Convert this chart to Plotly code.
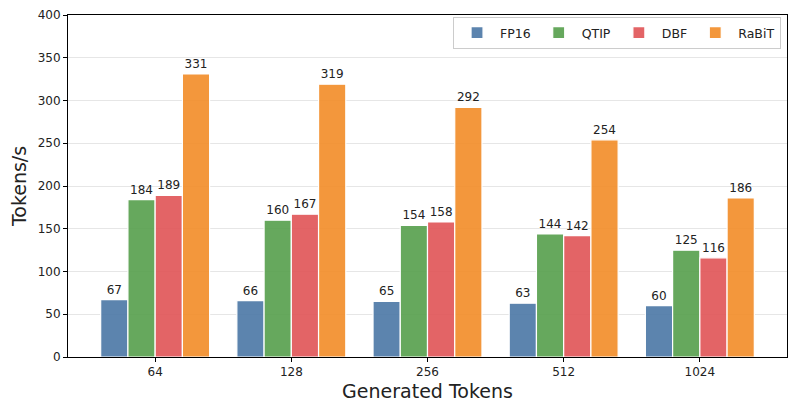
import plotly.graph_objects as go

categories = ["64", "128", "256", "512", "1024"]
fp16 = [67, 66, 65, 63, 60]
qtip = [184, 160, 154, 144, 125]
dbf = [189, 167, 158, 142, 116]
rabit = [331, 319, 292, 254, 186]

series = [
    ("FP16", fp16, "rgba(78,121,167,0.92)"),
    ("QTIP", qtip, "rgba(89,161,79,0.92)"),
    ("DBF", dbf, "rgba(225,87,89,0.92)"),
    ("RaBiT", rabit, "rgba(242,142,43,0.92)"),
]

fig = go.Figure()
for name, vals, col in series:
    fig.add_trace(go.Bar(
        name=name, x=categories, y=vals,
        marker=dict(color=col, line=dict(color="white", width=1.2)),
        text=[str(v) for v in vals], textposition="outside",
        textfont=dict(family="DejaVu Sans", size=12, color="#222"),
        cliponaxis=False,
    ))

fig.update_layout(
    width=797, height=414,
    margin=dict(l=68, r=10, t=15, b=57),
    plot_bgcolor="white", paper_bgcolor="white",
    barmode="group", bargap=0.2, bargroupgap=0,
    font=dict(family="DejaVu Sans", size=12, color="#222"),
    legend=dict(
        orientation="h", x=0.9917, xanchor="right", y=0.994, yanchor="top",
        bordercolor="#cccccc", borderwidth=1, bgcolor="rgba(255,255,255,0.9)",
        font=dict(size=12.5), itemwidth=36, traceorder="normal",
    ),
    showlegend=True,
)
fig.update_xaxes(
    type="category", range=[-0.64, 4.64],
    showline=True, linecolor="black", linewidth=1, mirror=True,
    ticks="outside", ticklen=4, tickcolor="black",
    tickfont=dict(size=12), automargin=False,
    title=dict(text="Generated Tokens", font=dict(size=19), standoff=6),
)
fig.update_yaxes(
    range=[0, 400], dtick=50,
    showline=True, linecolor="black", linewidth=1, mirror=True,
    ticks="outside", ticklen=4, tickcolor="black",
    showgrid=True, gridcolor="#e6e6e6", gridwidth=1,
    tickfont=dict(size=12), zeroline=False, automargin=False,
    title=dict(text="Tokens/s", font=dict(size=19), standoff=6),
)

fig.write_html(
    "out.html",
    config={"displayModeBar": False},
    post_script="document.body.style.margin='0';document.body.style.padding='0';",
)
